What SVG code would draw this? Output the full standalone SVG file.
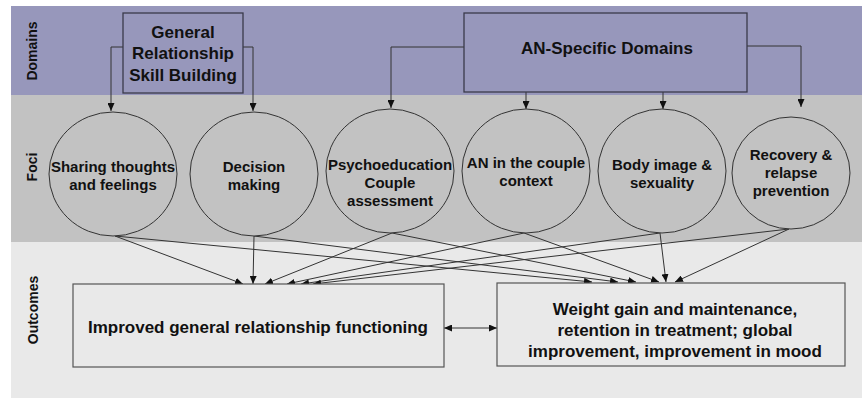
<svg xmlns="http://www.w3.org/2000/svg" width="862" height="400" viewBox="0 0 862 400">
  <defs>
    <marker id="ah" viewBox="0 0 8 7" refX="8" refY="3.5" markerWidth="8" markerHeight="7" markerUnits="userSpaceOnUse" orient="auto-start-reverse">
      <path d="M0,0 L8,3.5 L0,7 z" fill="#111"/>
    </marker>
  </defs>
  <style>
    text { font-family: "Liberation Sans", Arial, sans-serif; font-weight: bold; fill: #111; text-anchor: middle; }
    .band-label { font-size: 14px; }
    .dom { fill: #9797bb; stroke: #3a3a4a; stroke-width: 1.3; }
    .dom-text { font-size: 17px; }
    .focus { fill: #c2c2c2; stroke: #333; stroke-width: 1; }
    .focus-text { font-size: 15px; }
    .out { fill: #e9e9e9; stroke: #555; stroke-width: 1.2; }
    .out-text { font-size: 17px; }
    .conn { fill: none; stroke: #333; stroke-width: 1; marker-end: url(#ah); }
  </style>

  <!-- bands -->
  <g id="bands">
    <rect x="11" y="6" width="851" height="89" fill="#9797bb"/>
    <rect x="11" y="95" width="851" height="147" fill="#c2c2c2"/>
    <rect x="11" y="242" width="851" height="156" fill="#e9e9e9"/>
    <text class="band-label" transform="translate(37,51) rotate(-90)">Domains</text>
    <text class="band-label" transform="translate(37,167) rotate(-90)">Foci</text>
    <text class="band-label" transform="translate(38,310) rotate(-90)">Outcomes</text>
  </g>

  <!-- connectors -->
  <g id="connectors">
    <path class="conn" d="M123,47 H111 V111"/>
    <path class="conn" d="M243,47 H253 V111"/>
    <path class="conn" d="M464,47 H391 V108"/>
    <path class="conn" d="M526,92 V109"/>
    <path class="conn" d="M663,92 V109"/>
    <path class="conn" d="M747,46 H801 V107"/>

    <path class="conn" d="M115,236 L243,284"/>
    <path class="conn" d="M115,236 L592,282"/>
    <path class="conn" d="M254,236 L253,284"/>
    <path class="conn" d="M254,236 L618,282"/>
    <path class="conn" d="M392,233 L265,284"/>
    <path class="conn" d="M392,233 L636,282"/>
    <path class="conn" d="M524,233 L287,284"/>
    <path class="conn" d="M524,233 L659,282"/>
    <path class="conn" d="M660,233 L301,284"/>
    <path class="conn" d="M660,233 L666,282"/>
    <path class="conn" d="M789,229 L313,284"/>
    <path class="conn" d="M789,229 L675,282"/>

    <path class="conn" d="M444,328 H497" marker-start="url(#ah)"/>
  </g>

  <!-- domains -->
  <g id="general-relationship">
    <rect class="dom" x="123" y="13" width="120" height="80"/>
    <text class="dom-text" x="183" y="38">General</text>
    <text class="dom-text" x="183" y="59">Relationship</text>
    <text class="dom-text" x="183" y="81">Skill Building</text>
  </g>
  <g id="an-specific">
    <rect class="dom" x="464" y="13" width="283" height="79"/>
    <text class="dom-text" x="607" y="54">AN-Specific Domains</text>
  </g>

  <!-- foci -->
  <g id="sharing">
    <ellipse class="focus" cx="113" cy="174" rx="64" ry="62"/>
    <text class="focus-text" x="113" y="172">Sharing thoughts</text>
    <text class="focus-text" x="113" y="190">and feelings</text>
  </g>
  <g id="decision">
    <ellipse class="focus" cx="254" cy="174" rx="64" ry="62"/>
    <text class="focus-text" x="254" y="172">Decision</text>
    <text class="focus-text" x="254" y="190">making</text>
  </g>
  <g id="psychoeducation">
    <ellipse class="focus" cx="390" cy="171" rx="64" ry="62"/>
    <text class="focus-text" x="390" y="170">Psychoeducation</text>
    <text class="focus-text" x="390" y="188">Couple</text>
    <text class="focus-text" x="390" y="206">assessment</text>
  </g>
  <g id="an-couple">
    <ellipse class="focus" cx="526" cy="171" rx="64" ry="62"/>
    <text class="focus-text" x="526" y="168">AN in the couple</text>
    <text class="focus-text" x="526" y="186">context</text>
  </g>
  <g id="body-image">
    <ellipse class="focus" cx="662" cy="171" rx="64" ry="62"/>
    <text class="focus-text" x="662" y="170">Body image &amp;</text>
    <text class="focus-text" x="662" y="188">sexuality</text>
  </g>
  <g id="recovery">
    <ellipse class="focus" cx="791" cy="173" rx="59" ry="56"/>
    <text class="focus-text" x="791" y="160">Recovery &amp;</text>
    <text class="focus-text" x="791" y="178">relapse</text>
    <text class="focus-text" x="791" y="196">prevention</text>
  </g>

  <!-- outcomes -->
  <g id="general-outcome">
    <rect class="out" x="73" y="284" width="371" height="83"/>
    <text class="out-text" x="258" y="333">Improved general relationship functioning</text>
  </g>
  <g id="an-outcome">
    <rect class="out" x="497" y="283" width="348" height="83"/>
    <text class="out-text" x="675" y="315">Weight gain and maintenance,</text>
    <text class="out-text" x="675" y="336">retention in treatment; global</text>
    <text class="out-text" x="675" y="357">improvement, improvement in mood</text>
  </g>
</svg>
